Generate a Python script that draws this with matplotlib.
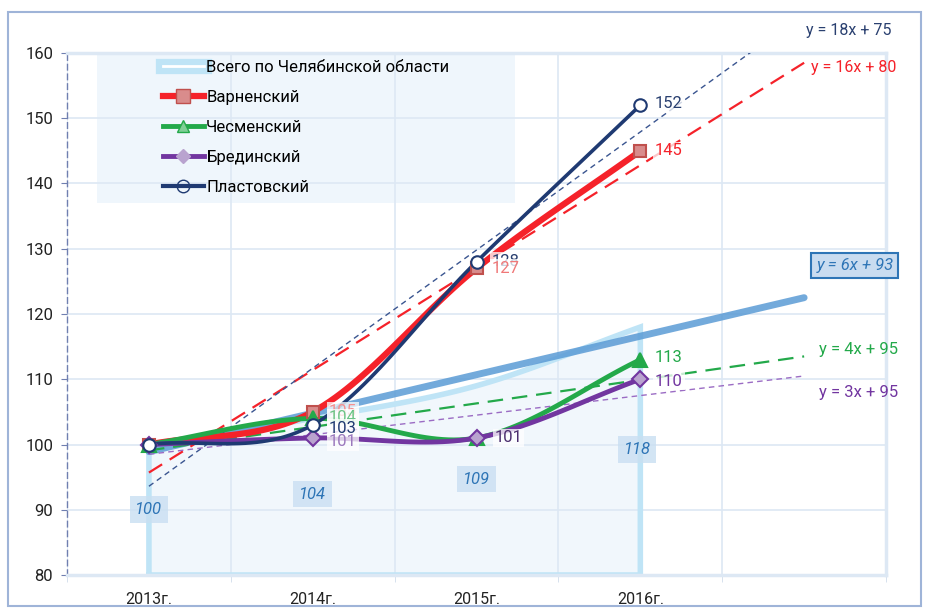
import numpy as np
import matplotlib
matplotlib.use('Agg')
import matplotlib.pyplot as plt
from matplotlib.lines import Line2D
from matplotlib.patches import Rectangle

plt.rcParams['font.family'] = ['Roboto', 'DejaVu Sans']

years = ['2013г.', '2014г.', '2015г.', '2016г.']
total = [100, 104, 109, 118]
varna = [100, 105, 127, 145]
chesma = [100, 104, 101, 113]
bredy = [100, 101, 101, 110]
plast = [100, 103, 128, 152]
names = ['Всего по Челябинской области', 'Варненский', 'Чесменский', 'Брединский', 'Пластовский']
trend_labels = ['y = 6x + 93', 'y = 16x + 80', 'y = 4x + 95', 'y = 3x + 95', 'y = 18x + 75']

c_total = '#bfe4f6'
c_trend = '#5b9bd5'
c_red = '#f5222a'
c_green = '#23a94a'
c_purple = '#7236a0'
c_navy = '#1f3a72'


def smooth(y, n=30):
    # Catmull-Rom curve through the points (like Excel's smoothed line)
    y = np.asarray(y, float)
    x = np.arange(len(y), dtype=float)
    px = np.concatenate([[2 * x[0] - x[1]], x, [2 * x[-1] - x[-2]]])
    py = np.concatenate([[2 * y[0] - y[1]], y, [2 * y[-1] - y[-2]]])
    xs, ys = [], []
    for i in range(1, len(px) - 2):
        t = np.linspace(0, 1, n)
        for arr, out in ((px, xs), (py, ys)):
            p0, p1, p2, p3 = arr[i - 1], arr[i], arr[i + 1], arr[i + 2]
            out.append(0.5 * ((2 * p1) + (-p0 + p2) * t + (2 * p0 - 5 * p1 + 4 * p2 - p3) * t ** 2
                              + (-p0 + 3 * p1 - 3 * p2 + p3) * t ** 3))
    return np.concatenate(xs), np.concatenate(ys)


def trend(y):
    x = np.arange(1, len(y) + 1)
    k, b = np.polyfit(x, y, 1)
    xx = np.array([1, len(y) + 1])
    return xx - 1, k * xx + b


fig = plt.figure(figsize=(9.27, 6.11), dpi=100)
fig.patches.append(Rectangle((0.009, 0.008), 0.985, 0.972, transform=fig.transFigure,
                             fill=False, edgecolor='#9fb4d8', lw=1.5))
ax = fig.add_axes([0.0723, 0.0589, 0.8835, 0.8544])
ax.set_xlim(-0.5, 4.5)
ax.set_ylim(80, 160)

# grid
ax.set_yticks(np.arange(80, 161, 10))
ax.set_xticks(np.arange(-0.5, 4.6, 1), minor=True)
ax.set_xticks(range(len(years)))
ax.set_xticklabels(years, fontsize=11.5, color='#222222')
ax.tick_params(axis='x', which='major', length=0, pad=12)
ax.tick_params(axis='x', which='minor', length=5, color='#d0dcea')
ax.tick_params(axis='y', labelsize=12, colors='#222222', length=4, color='#6f7fb0', pad=6)
ax.grid(axis='y', color='#dde8f4', lw=1.2)
ax.grid(axis='x', which='minor', color='#dde8f4', lw=1.2)
for s in ['top', 'right', 'bottom']:
    ax.spines[s].set_color('#dde8f4')
    ax.spines[s].set_linewidth(2.5)
ax.spines['left'].set_color('#6f7fb0')
ax.spines['left'].set_linestyle((0, (4, 3)))
ax.spines['left'].set_linewidth(1)

# legend background
ax.add_patch(Rectangle((0.037, 0.713), 0.51, 0.287, transform=ax.transAxes,
                       fc='#eef6fc', ec='none', alpha=0.9, zorder=1.5))

# total area
sx, sy = smooth(total)
ax.fill_between(sx, 80, sy, color='#eef6fc', alpha=0.8, lw=0, zorder=1)
ax.plot(np.concatenate([[0], sx, [3, 0]]), np.concatenate([[80], sy, [80, 80]]),
        color=c_total, lw=4, zorder=2, solid_joinstyle='miter')

# trend lines
tx, ty = trend(total)
ax.plot(tx, ty, color=c_trend, lw=5, alpha=0.85, solid_capstyle='round', zorder=3)
for vals, col, ls, lw in [(varna, c_red, (0, (7, 4)), 1.6), (chesma, c_green, (0, (7, 4)), 1.6),
                          (bredy, '#9b6cc4', (0, (4, 3)), 1.0), (plast, '#3a5590', (0, (4, 3)), 1.0)]:
    tx, ty = trend(vals)
    ax.plot(tx, ty, color=col, ls=ls, lw=lw, zorder=4)

# series
series = [
    (varna, c_red, 4.5, 's', '#d98c8c', '#c0504d', 9),
    (chesma, c_green, 3.5, '^', c_green, c_green, 10),
    (bredy, c_purple, 3.5, 'D', '#b9a3cf', c_purple, 8),
    (plast, c_navy, 2.6, 'o', 'white', c_navy, 9),
]
for vals, col, lw, mk, mfc, mec, ms in series:
    sx, sy = smooth(vals)
    ax.plot(sx, sy, color=col, lw=lw, zorder=5, solid_capstyle='round')
    ax.plot(range(len(vals)), vals, ls='none', marker=mk, ms=ms, mfc=mfc, mec=mec,
            mew=1.5, zorder=6)

# data labels
box = dict(boxstyle='square,pad=0.1', fc='white', ec='none', alpha=0.75)
lab = [
    (3.09, 152.2, '152', '#2a4070'), (3.09, 145, '145', c_red),
    (2.09, 128.1, '128', '#2a4070'), (2.09, 127, '127', '#f07878'),
    (3.09, 113.3, '113', c_green), (3.09, 109.7, '110', c_purple),
    (2.11, 101, '101', '#4b2d6e'),
    (1.10, 105.1, '105', '#f59090'), (1.10, 104.1, '104', '#6cc486'),
    (1.10, 102.5, '103', '#1f3a72'), (1.10, 100.4, '101', '#9b78bd'),
]
for x, y, t, c in lab:
    ax.text(x, y, t, color=c, fontsize=12, va='center', ha='left', bbox=box, zorder=7)

tot_pos = [(0, 90), (1, 92.4), (2, 94.7), (2.98, 99.2)]
for (x, y), v in zip(tot_pos, total):
    ax.text(x, y, str(v), color='#2e75b6', fontsize=12, style='italic', ha='center', va='center',
            bbox=dict(boxstyle='square,pad=0.35', fc='#c9dff2', ec='none', alpha=0.8), zorder=7)

# equations
ax.text(4.27, 163.5, trend_labels[4], color='#2a4070', fontsize=11.5, ha='center', va='center', clip_on=False)
ax.text(4.30, 157.7, trend_labels[1], color=c_red, fontsize=11.5, ha='center', va='center', clip_on=False)
ax.text(4.31, 127.5, trend_labels[0], color='#2e75b6', fontsize=12, style='italic', ha='center',
        va='center', bbox=dict(boxstyle='square,pad=0.3', fc='#c9dcf0', ec='#2e75b6', lw=1.5), zorder=8)
ax.text(4.33, 114.5, trend_labels[2], color=c_green, fontsize=12, ha='center', va='center')
ax.text(4.33, 108.0, trend_labels[3], color=c_purple, fontsize=12, ha='center', va='center')

# legend
handles = [
    (Line2D([], [], color=c_total, lw=11), Line2D([], [], color='white', lw=2)),
    Line2D([], [], color=c_red, lw=4.5, marker='s', ms=10, mfc='#d98c8c', mec='#c0504d'),
    Line2D([], [], color=c_green, lw=3.5, marker='^', ms=9, mfc='#7fcf96', mec=c_green),
    Line2D([], [], color=c_purple, lw=3.5, marker='D', ms=7, mfc='#b9a3cf', mec='#b9a3cf'),
    Line2D([], [], color=c_navy, lw=3, marker='o', ms=9, mfc='none', mec=c_navy),
]
leg = ax.legend(handles, names, loc='upper left', bbox_to_anchor=(0.117, 0.986), fontsize=12,
                frameon=False, handlelength=2.45, handletextpad=0.15,
                labelspacing=0.9, borderpad=0, borderaxespad=0)
leg.set_zorder(2)

fig.savefig('out.png', dpi=100)
